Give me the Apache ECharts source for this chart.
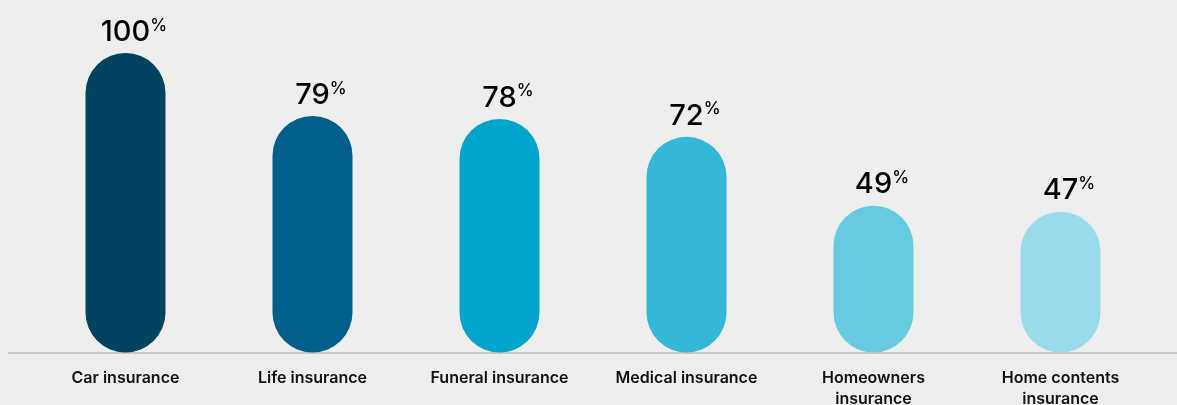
<!DOCTYPE html>
<html><head><meta charset="utf-8">
<script src="https://cdn.jsdelivr.net/npm/echarts@6/dist/echarts.min.js"></script>
<style>html,body{margin:0;padding:0;background:#eeeeee;}#c{width:1177px;height:405px;}</style>
</head><body><div id="c"></div>
<script>
const categories = ['Car insurance', 'Life insurance', 'Funeral insurance', 'Medical insurance', 'Homeowners\ninsurance', 'Home contents\ninsurance'];
const values = [100, 79, 78, 72, 49, 47];
const barColors = ['#02445f', '#025e8a', '#00a5c9', '#33b8d7', '#66cbe0', '#99dbeb'];

const chart = echarts.init(document.getElementById('c'));
const FONT = 'Inter, "Noto Sans", sans-serif';
chart.setOption({
  backgroundColor: '#eeeeee',
  animation: false,
  grid: [
    {left: 32, right: 23, top: 53, bottom: 52.5, outerBoundsMode: 'none', containLabel: false},
    {left: 9, right: 0, top: 53, bottom: 52.5, outerBoundsMode: 'none', containLabel: false}
  ],
  xAxis: [
    {type: 'category', gridIndex: 0, data: categories,
     axisLine: {show: false}, axisTick: {show: false},
     axisLabel: {color: '#111', fontFamily: FONT, fontSize: 16, fontWeight: 600, lineHeight: 21, margin: 15, interval: 0}},
    {type: 'value', gridIndex: 1, min: 0, max: 1, position: 'bottom',
     axisLine: {show: true, lineStyle: {color: '#c8c8c8', width: 2}},
     axisTick: {show: false}, axisLabel: {show: false}, splitLine: {show: false}}
  ],
  yAxis: [
    {type: 'value', gridIndex: 0, min: 0, max: 100, show: false},
    {type: 'value', gridIndex: 1, min: 0, max: 1, show: false}
  ],
  series: [{
    type: 'bar', xAxisIndex: 0, yAxisIndex: 0, barWidth: 80,
    data: values.map((v, i) => ({value: v, itemStyle: {color: barColors[i], borderRadius: 40}})),
    label: {
      show: true, position: 'top', distance: 6,
      formatter: p => '{s|%}{v|' + p.value + '}{p|%}',
      rich: {
        v: {fontFamily: FONT, fontSize: 29, fontWeight: 500, color: '#000', lineHeight: 30},
        p: {fontFamily: FONT, fontSize: 17, fontWeight: 500, color: '#000', lineHeight: 17, verticalAlign: 'top'},
        s: {fontFamily: FONT, fontSize: 17, fontWeight: 500, color: 'rgba(0,0,0,0)', lineHeight: 17, verticalAlign: 'top'}
      }
    }
  }]
});
</script></body></html>
